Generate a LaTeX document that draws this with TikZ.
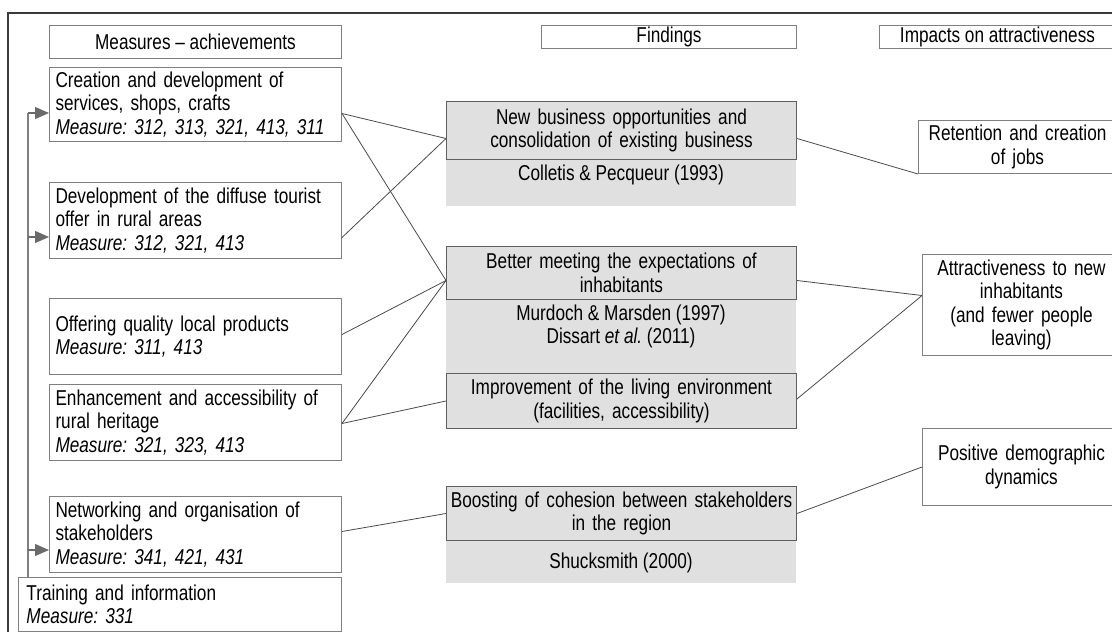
\documentclass[tikz,border=0pt]{standalone}
\usepackage{fontspec}
\setmainfont{Liberation Sans}[FakeStretch=0.80]
\usetikzlibrary{arrows.meta}
\definecolor{boxgray}{HTML}{7F7F7F}
\definecolor{fillgray}{HTML}{E0E0E0}
\definecolor{hdrgray}{HTML}{5F5F5F}
\definecolor{linegray}{HTML}{4A4A4A}
\definecolor{framegray}{HTML}{3A3A3A}
\definecolor{arrowgray}{HTML}{6A6A6A}
\frenchspacing
\begin{document}
\begin{tikzpicture}[x=1pt,y=-1pt,
  font=\fontsize{21.5}{23.5}\selectfont,
  lbox/.style={draw=boxgray, line width=1pt, anchor=north west, inner xsep=6pt, inner ysep=0pt, align=left},
  topbox/.style={draw=boxgray, line width=1pt, anchor=north west, inner xsep=0pt, inner ysep=0pt, align=center},
  hbox/.style={draw=hdrgray, fill=fillgray, line width=1pt, anchor=north west, inner xsep=0pt, inner ysep=0pt, align=center, text width=350pt},
  rbox/.style={draw=boxgray, line width=1pt, anchor=north west, inner xsep=2pt, inner ysep=0pt, align=center, text width=194pt},
  cite/.style={inner sep=0pt, align=center},
  conn/.style={draw=linegray, line width=0.8pt},
  spineline/.style={draw=boxgray, line width=1.2pt},
  arr/.style={draw=boxgray, line width=1.2pt, -{Triangle[length=14pt,width=12pt]}, arrowgray},
  graybg/.style={fill=fillgray, draw=none}
]
\useasboundingbox (0,0) rectangle (1112,632);
\clip (0,0) rectangle (1112,632);

% outer frame
\draw[framegray, line width=1.5pt] (8,650) -- (8,13) -- (1130,13);

% column headers
\node[topbox, minimum width=292pt, minimum height=33pt] (h1) at (49,25) {Measures -- achievements};
\node[topbox, minimum width=255pt, minimum height=23pt] (h2) at (541,25) {Findings};
\node[topbox, minimum width=236pt, minimum height=23pt] (h3) at (879,25) {Impacts on attractiveness};

% left boxes
\node[lbox, text width=280pt, minimum height=74pt] (A) at (49,67) {Creation and development of\\services, shops, crafts\\\textit{Measure: 312, 313, 321, 413, 311}};
\node[lbox, text width=280pt, minimum height=76pt] (B) at (49,182) {Development of the diffuse tourist\\offer in rural areas\\\textit{Measure: 312, 321, 413}};
\node[lbox, text width=280pt, minimum height=76pt] (C) at (49,298) {Offering quality local products\\\textit{Measure: 311, 413}};
\node[lbox, text width=280pt, minimum height=76pt] (D) at (49,384) {Enhancement and accessibility of\\rural heritage\\\textit{Measure: 321, 323, 413}};
\node[lbox, text width=280pt, minimum height=76pt] (E) at (49,496) {Networking and organisation of\\stakeholders\\\textit{Measure: 341, 421, 431}};
\node[lbox, inner xsep=8pt, text width=307pt, minimum height=54pt] (F) at (18,577) {Training and information\\\textit{Measure: 331}};

% gray backgrounds of findings
\path[graybg] (446,101) rectangle (796,206);
\path[graybg] (446,246) rectangle (796,373);
\path[graybg] (446,486) rectangle (796,583);

% findings
\node[hbox, minimum height=58pt] (G1) at (446,101) {New business opportunities and\\consolidation of existing business};
\node[cite] (c1) at (621,175) {Colletis \& Pecqueur (1993)};
\node[hbox, minimum height=53pt] (G2) at (446,246) {Better meeting the expectations of\\inhabitants};
\node[cite] (c2) at (621,326.5) {Murdoch \& Marsden (1997)\\Dissart \textit{et al.} (2011)};
\node[hbox, minimum height=55pt] (G4) at (446,373) {Improvement of the living environment\\(facilities, accessibility)};
\node[hbox, minimum height=54pt] (G3) at (446,486) {Boosting of cohesion between stakeholders\\in the region};
\node[cite] (c3) at (621,563) {Shucksmith (2000)};

% impacts
\node[rbox, minimum height=53pt] (R1) at (918,120) {Retention and creation\\of jobs};
\node[rbox, minimum height=101pt] (R2) at (922,254) {Attractiveness to new\\inhabitants\\(and fewer people\\leaving)};
\node[rbox, minimum height=77pt] (R3) at (922,428) {Positive demographic\\dynamics};

% spine with arrows
\coordinate (s1) at (28,113);
\coordinate (s2) at (28,237);
\coordinate (s3) at (28,550);
\draw[spineline] (F.north -| s1) -- (s1);
\draw[arr] (s1) -- (A.west |- s1);
\draw[arr] (s2) -- (B.west |- s2);
\draw[arr] (s3) -- (E.west |- s3);

% connectors measures -> findings
\draw[conn] ([yshift=-9pt]A.east) -- ([yshift=-8pt]G1.west);
\draw[conn] ([yshift=-9pt]A.east) -- ([yshift=-7.5pt]G2.west);
\draw[conn] ([yshift=-17pt]B.east) -- ([yshift=-8pt]G1.west);
\draw[conn] ([yshift=2pt]C.east) -- ([yshift=-7.5pt]G2.west);
\draw[conn] ([yshift=-1pt]D.east) -- ([yshift=-7.5pt]G2.west);
\draw[conn] ([yshift=-1pt]D.east) -- (G4.west);
\draw[conn] ([yshift=3pt]E.east) -- (G3.west);

% connectors findings -> impacts
\draw[conn] ([yshift=-8pt]G1.east) -- (R1.south west);
\draw[conn] ([yshift=-7.5pt]G2.east) -- ([yshift=9.5pt]R2.west);
\draw[conn] ([yshift=2pt]G4.east) -- ([yshift=9.5pt]R2.west);
\draw[conn] (G3.east) -- (R3.west);
\end{tikzpicture}
\end{document}
